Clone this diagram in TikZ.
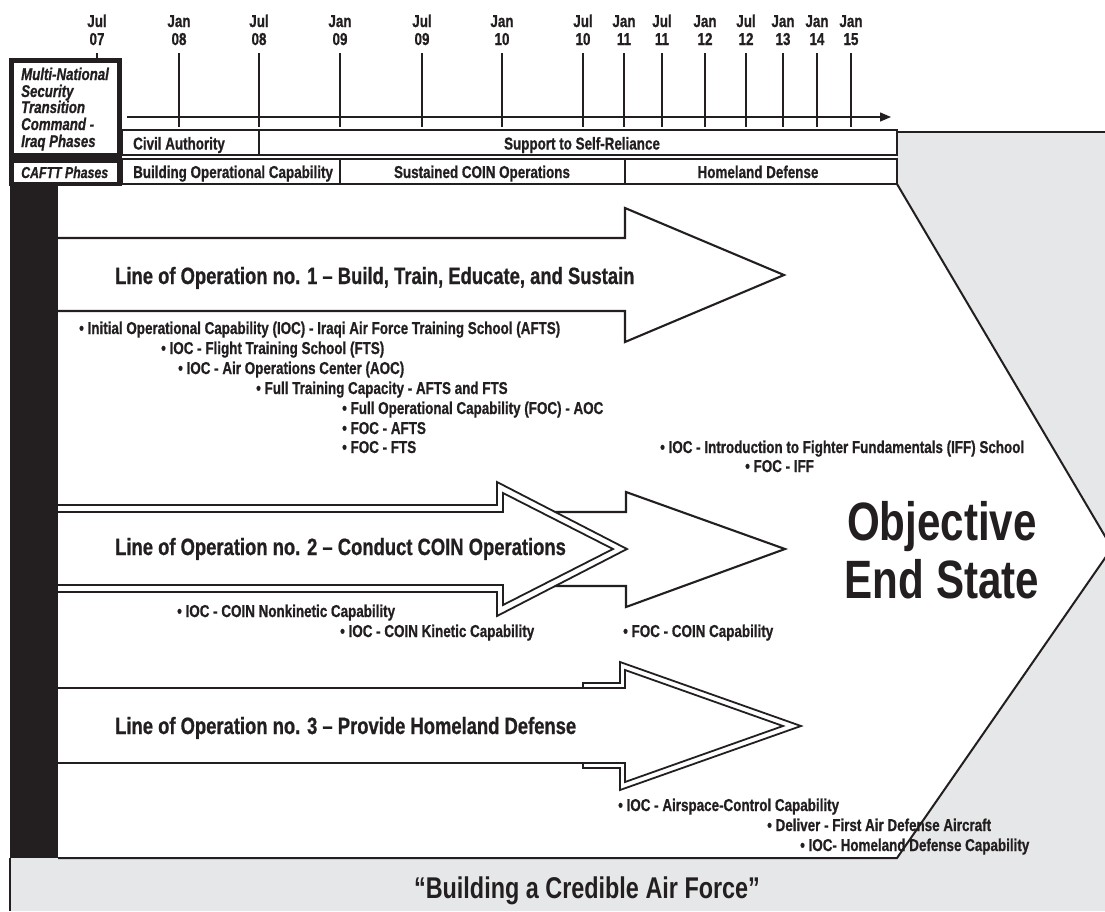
\documentclass[tikz,border=0pt]{standalone}
\usepackage{fontspec}
\usetikzlibrary{arrows.meta}
\newfontfamily\cfb{Liberation Sans Bold}[FakeStretch=0.78,FakeBold=0.8]
\newfontfamily\cfbi{Liberation Sans Bold Italic}[FakeStretch=0.78,FakeBold=0.8]
\newfontfamily\cfB{Liberation Sans Bold}[FakeStretch=0.78]
\definecolor{ink}{HTML}{231F20}
\definecolor{panel}{HTML}{E6E7E8}
\begin{document}
\begin{tikzpicture}[x=1pt,y=-1pt,line join=miter,
  small/.style={inner sep=0,anchor=base west,text=ink,font=\cfb\fontsize{17.2}{18}\selectfont},
  smallc/.style={small,anchor=base},
  ital/.style={small,font=\cfbi\fontsize{17}{18}\selectfont},
  loo/.style={inner sep=0,anchor=base west,text=ink,font=\cfb\fontsize{23.6}{26}\selectfont},
  big/.style={inner sep=0,anchor=base,text=ink,font=\cfB\fontsize{54}{58}\selectfont},
  motto/.style={inner sep=0,anchor=base,text=ink,font=\cfB\fontsize{30}{34}\selectfont},
  boxline/.style={draw=ink,line width=2pt},
  arrline/.style={draw=ink,line width=2.1pt},
  dblline/.style={draw=ink,line width=1.8pt},
  tick/.style={draw=ink,line width=1.5pt}]
\useasboundingbox (0,0) rectangle (1105,911);
\clip (0,0) rectangle (1105,911);
% grey panel
\fill[panel] (897,132) -- (1105,132) -- (1105,911) -- (10,911) -- (10,858) -- (897,858) -- (1112,548) -- (897,184) -- cycle;
\draw[boxline] (897,184) -- (1112,548) -- (897,858) -- (58,858);
\draw[boxline] (897,132) -- (1105,132);
\draw[draw=ink,line width=1.2pt] (10,858) -- (10,911);
% black bar and header box
\fill[ink] (10,185) rectangle (58,858);
\fill[ink] (9,58) rectangle (122,186);
\fill[white] (14,63) rectangle (117,153);
\fill[white] (14,163) rectangle (117,182);
% phase rows
\draw[boxline] (122,130) rectangle (897,155);
\draw[boxline] (259,130) -- (259,155);
\draw[boxline] (122,159) rectangle (897,184);
\draw[boxline] (340,159) -- (340,184);
\draw[boxline] (625,159) -- (625,184);
% timeline
\draw[draw=ink,line width=1.3pt,-{Triangle[length=11pt,width=9pt]}] (127,117) -- (891,117);
\draw[tick] (97,53) -- (97,58);
\node[smallc] (m0a) at (97,27) {Jul};
\node[smallc] (m0b) at (97,45) {07};
\foreach \x/\m/\yr [count=\i] in {179/Jan/08,259/Jul/08,340/Jan/09,422/Jul/09,502/Jan/10,583/Jul/10,624/Jan/11,662/Jul/11,705/Jan/12,746/Jul/12,783/Jan/13,817/Jan/14,851/Jan/15}{
  \draw[tick] (\x,53) -- (\x,127);
  \node[smallc] (m\i a) at (\x,27) {\m};
  \node[smallc] (m\i b) at (\x,45) {\yr};
}
% header texts
\node[ital] (h1) at (21,80) {Multi-National};
\node[ital] (h2) at (21,97) {Security};
\node[ital] (h3) at (21,113) {Transition};
\node[ital] (h4) at (21,130) {Command -};
\node[ital] (h5) at (21,147) {Iraq Phases};
\node[ital,font=\cfbi\fontsize{15.8}{18}\selectfont] (h6) at (21,178) {CAFTT Phases};
% phase labels
\node[small] (p1) at (133,149.5) {Civil Authority};
\node[smallc] (p2) at (582,149.5) {Support to Self-Reliance};
\node[small] (p3) at (133,178) {Building Operational Capability};
\node[smallc] (p4) at (482,178) {Sustained COIN Operations};
\node[smallc] (p5) at (758,178) {Homeland Defense};
% arrow 1
\draw[arrline] (58,238) -- (625,238) -- (625,208) -- (784,275) -- (625,342) -- (625,311) -- (58,311);
% arrow 2 (rear, single)
\draw[arrline,fill=white] (497,512) -- (626,512) -- (626,492) -- (785,549) -- (626,607) -- (626,586) -- (497,586);
% arrow 2 (front, double)
\fill[white] (58,505) -- (497,505) -- (497,482) -- (627,549) -- (497,616) -- (497,592) -- (58,592) -- cycle;
\draw[dblline] (58,505) -- (497,505) -- (497,482) -- (627,549) -- (497,616) -- (497,592) -- (58,592);
\draw[dblline] (58,512) -- (503,512) -- (503,493) -- (613,549) -- (503,605) -- (503,585) -- (58,585);
% arrow 3
\draw[dblline] (58,688) -- (625,688) -- (625,670) -- (783,726) -- (625,782) -- (625,763) -- (58,763);
\draw[dblline] (583,688) -- (583,683) -- (620,683) -- (620,662) -- (801,726) -- (620,790) -- (620,768) -- (583,768) -- (583,763);
% line of operation titles
\node[loo] (l1) at (115,284) {Line of Operation no. 1 – Build, Train, Educate, and Sustain};
\node[loo] (l2) at (115,555) {Line of Operation no. 2 – Conduct COIN Operations};
\node[loo] (l3) at (115,734) {Line of Operation no. 3 – Provide Homeland Defense};
% milestones
\node[small] (b1) at (79,334) {• Initial Operational Capability (IOC) - Iraqi Air Force Training School (AFTS)};
\node[small] (b2) at (161,354) {• IOC - Flight Training School (FTS)};
\node[small] (b3) at (178,374) {• IOC - Air Operations Center (AOC)};
\node[small] (b4) at (256,394) {• Full Training Capacity - AFTS and FTS};
\node[small] (b5) at (342,414) {• Full Operational Capability (FOC) - AOC};
\node[small] (b6) at (342,434) {• FOC - AFTS};
\node[small] (b7) at (342,453) {• FOC - FTS};
\node[small] (b8) at (660,453) {• IOC - Introduction to Fighter Fundamentals (IFF) School};
\node[small] (b9) at (745,472) {• FOC - IFF};
\node[small] (c1) at (177,617) {• IOC - COIN Nonkinetic Capability};
\node[small] (c2) at (340,637) {• IOC - COIN Kinetic Capability};
\node[small] (c3) at (623,637) {• FOC - COIN Capability};
\node[small] (d1) at (618,811) {• IOC - Airspace-Control Capability};
\node[small] (d2) at (767,831) {• Deliver - First Air Defense Aircraft};
\node[small] (d3) at (800,851) {• IOC- Homeland Defense Capability};
% objective
\node[big] (o1) at (942,540) {Objective};
\node[big] (o2) at (942,598) {End State};
% motto
\node[motto] (mt) at (587,898) {“Building a Credible Air Force”};
\end{tikzpicture}
\end{document}
